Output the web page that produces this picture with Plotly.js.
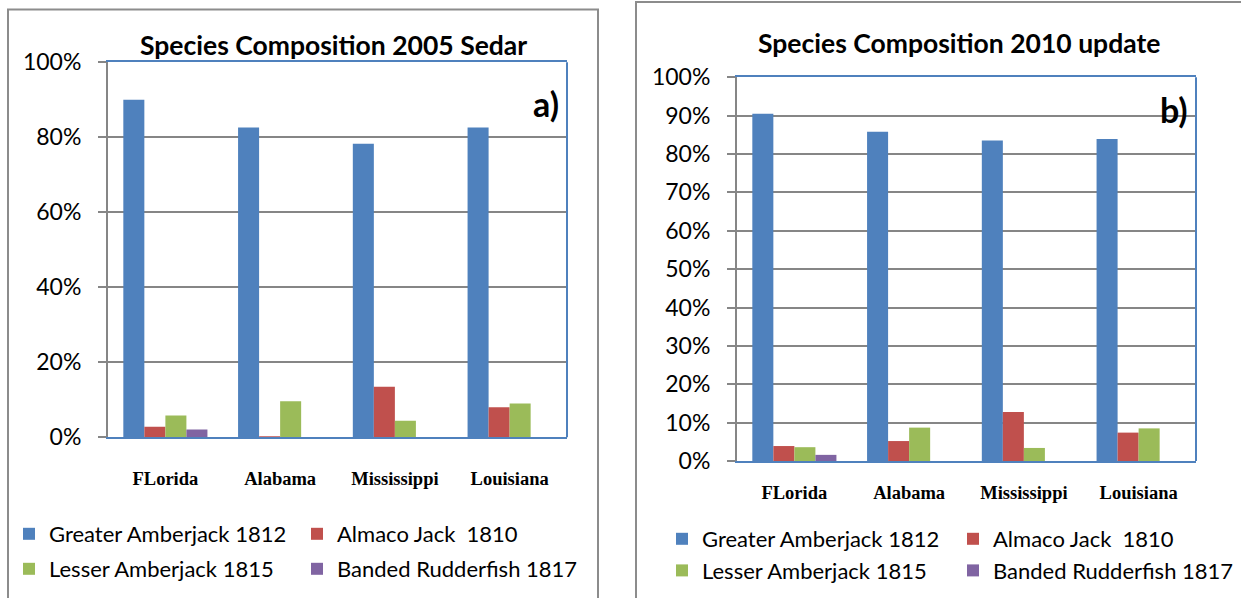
<!DOCTYPE html>
<html><head><meta charset="utf-8">
<script src="https://cdn.plot.ly/plotly-3.0.1.min.js"></script>
<style>body{margin:0;background:#fff}#chart{width:1241px;height:598px}</style>
</head><body><div id="chart"></div>
<script>
// ---- data ----
const regions = ['FLorida', 'Alabama', 'Mississippi', 'Louisiana'];
const seriesNames = ['Greater Amberjack 1812', 'Almaco Jack\u00a0 1810', 'Lesser Amberjack 1815', 'Banded Rudderfish 1817'];
const greater2005 = [90.0, 82.6, 78.3, 82.6];
const almaco2005  = [2.8, 0.3, 13.5, 8.0];
const lesser2005  = [5.8, 9.6, 4.4, 9.0];
const banded2005  = [2.1, 0, 0, 0];
const greater2010 = [90.5, 85.8, 83.5, 83.9];
const almaco2010  = [3.9, 5.2, 12.8, 7.4];
const lesser2010  = [3.6, 8.7, 3.4, 8.5];
const banded2010  = [1.6, 0, 0, 0];
const title2005 = 'Species Composition 2005 Sedar';
const title2010 = 'Species Composition 2010 update';
const panelA = 'a)';
const panelB = 'b)';

// ---- style ----
const colors = ['#4F81BD', '#C0504D', '#9BBB59', '#8064A2'];
const W = 1241, H = 598;
const px = x => x / W;
const py = y => 1 - y / H;
const SANS = 'Lato, "Open Sans", sans-serif';
const SERIF = '"Liberation Serif", "Times New Roman", serif';
const gridCol = '#868686';
const frameCol = '#4F81BD';

const data2005 = [greater2005, almaco2005, lesser2005, banded2005];
const data2010 = [greater2010, almaco2010, lesser2010, banded2010];
const legendsLeft = ['legend', 'legend2', 'legend', 'legend2'];
const legendsRight = ['legend3', 'legend4', 'legend3', 'legend4'];

const traces = [];
data2005.forEach((vals, i) => traces.push({
  type: 'bar', x: regions, y: vals, name: seriesNames[i],
  marker: {color: colors[i]}, xaxis: 'x', yaxis: 'y',
  legend: legendsLeft[i], legendgroup: 'a' + i, hoverinfo: 'skip'
}));
data2010.forEach((vals, i) => traces.push({
  type: 'bar', x: regions, y: vals, name: seriesNames[i],
  marker: {color: colors[i]}, xaxis: 'x2', yaxis: 'y2',
  legend: legendsRight[i], legendgroup: 'b' + i, hoverinfo: 'skip'
}));

function xa(domain, standoff) {
  return {
    domain: domain, showline: true, linecolor: frameCol, linewidth: 2, mirror: true,
    ticks: '', showgrid: false, zeroline: false, fixedrange: true,
    ticklabelstandoff: standoff,
    tickfont: {family: SERIF, size: 18.5, color: '#000', weight: 'bold'}
  };
}
function ya(domain, anchor, dtick) {
  return {
    domain: domain, anchor: anchor, range: [0, 100], dtick: dtick, tick0: 0,
    ticksuffix: '%', showline: true, linecolor: gridCol, linewidth: 2,
    ticks: 'outside', ticklen: 8, tickwidth: 2, tickcolor: gridCol,
    showgrid: true, gridcolor: gridCol, gridwidth: 2, zeroline: false,
    fixedrange: true, ticklabelstandoff: 12,
    tickfont: {family: SANS, size: 23, color: '#000'}
  };
}

const legendBase = {
  orientation: 'v', xanchor: 'left', yanchor: 'top', bgcolor: 'rgba(0,0,0,0)',
  borderwidth: 0, font: {family: SANS, size: 22, color: '#000'}, itemclick: false, itemdoubleclick: false
};

const layout = {
  width: W, height: H, margin: {l: 0, r: 0, t: 0, b: 0},
  paper_bgcolor: '#fff', plot_bgcolor: '#fff',
  barmode: 'group', bargap: 0.267, bargroupgap: 0,
  showlegend: true,
  xaxis: Object.assign(xa([px(108), px(567)], 23), {anchor: 'y'}),
  yaxis: ya([py(437.3), py(62.3)], 'x', 20),
  xaxis2: Object.assign(xa([px(737), px(1196)], 14), {anchor: 'y2'}),
  yaxis2: ya([py(461), py(77.3)], 'x2', 10),
  legend:  Object.assign({}, legendBase, {x: px(9),   y: py(513), tracegroupgap: 3.4}),
  legend2: Object.assign({}, legendBase, {x: px(297), y: py(513), tracegroupgap: 3.4}),
  legend3: Object.assign({}, legendBase, {x: px(662), y: py(518), tracegroupgap: 0}),
  legend4: Object.assign({}, legendBase, {x: px(953), y: py(518), tracegroupgap: 0}),
  annotations: [
    {text: title2005, xref: 'paper', yref: 'paper', x: px(333), y: py(45), showarrow: false,
     xanchor: 'center', yanchor: 'middle', font: {family: SANS, size: 26.5, color: '#000', weight: 'bold'}},
    {text: title2010, xref: 'paper', yref: 'paper', x: px(959), y: py(43), showarrow: false,
     xanchor: 'center', yanchor: 'middle', font: {family: SANS, size: 26.5, color: '#000', weight: 'bold'}},
    {text: panelA, xref: 'paper', yref: 'paper', x: px(546), y: py(103), showarrow: false,
     xanchor: 'center', yanchor: 'middle', font: {family: SANS, size: 34, color: '#000', weight: 'bold'}},
    {text: panelB, xref: 'paper', yref: 'paper', x: px(1174), y: py(109), showarrow: false,
     xanchor: 'center', yanchor: 'middle', font: {family: SANS, size: 34, color: '#000', weight: 'bold'}}
  ],
  shapes: [
    {type: 'rect', xref: 'paper', yref: 'paper', x0: px(8), x1: px(598), y0: -0.1, y1: py(9.5),
     line: {color: '#8c8c8c', width: 2}, fillcolor: 'rgba(0,0,0,0)', layer: 'below'},
    {type: 'rect', xref: 'paper', yref: 'paper', x0: px(636), x1: 1.1, y0: -0.1, y1: py(2),
     line: {color: '#8c8c8c', width: 2}, fillcolor: 'rgba(0,0,0,0)', layer: 'below'},
    {type: 'line', xref: 'x domain', yref: 'y domain', x0: 1, x1: 1, y0: 0, y1: 1,
     line: {color: frameCol, width: 2}},
    {type: 'line', xref: 'x2 domain', yref: 'y2 domain', x0: 1, x1: 1, y0: 0, y1: 1,
     line: {color: frameCol, width: 2}}
  ]
};

Plotly.newPlot('chart', traces, layout, {staticPlot: true, displayModeBar: false});
</script>
</body></html>
